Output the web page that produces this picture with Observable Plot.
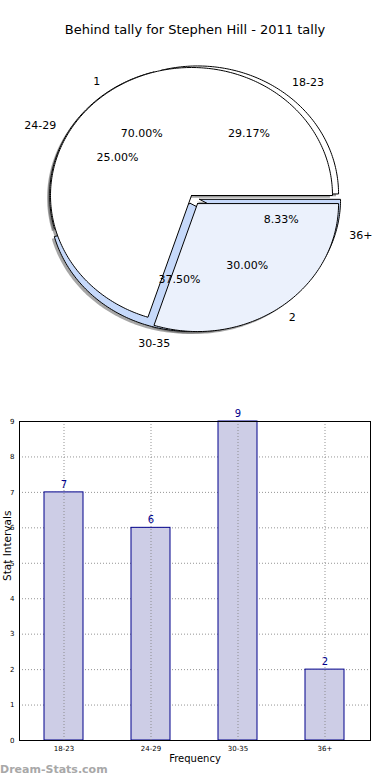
<!DOCTYPE html>
<html>
<head>
<meta charset="utf-8">
<script src="https://cdn.jsdelivr.net/npm/d3@7"></script>
<script src="https://cdn.jsdelivr.net/npm/@observablehq/plot@0.6"></script>
<style>
  html, body { margin: 0; padding: 0; background: #fff; }
  #wrap { position: relative; width: 390px; height: 780px; overflow: hidden; background: #fff; font-family: "DejaVu Sans", sans-serif; }
  #pie, #bar { position: absolute; left: 0; }
  #pie { top: 0; }
  #bar { top: 400px; }
  #title { position: absolute; top: 22px; left: 0; width: 390px; text-align: center; font-size: 13px; color: #000; }
  #wm { position: absolute; left: 0; top: 763px; font-size: 11px; font-weight: bold; color: #a8a8a8; }
</style>
</head>
<body>
<div id="wrap">
  <div id="pie"></div>
  <div id="bar"></div>
  <div id="title">Behind tally for Stephen Hill - 2011 tally</div>
  <div id="wm">Dream-Stats.com</div>
</div>
<script>
// ---- data ----
const ageLabels = ["18-23", "24-29", "30-35", "36+"];
const ageCounts = [7, 6, 9, 2];
const groupLabels = ["1", "2"];
const groupValues = [70, 30];
const yTicks = [0, 1, 2, 3, 4, 5, 6, 7, 8, 9];
const titleText = "Behind tally for Stephen Hill - 2011 tally";
const xTitle = "Frequency";
const yTitle = "Stat Intervals";

// ---- styles ----
const ageColors = ["#ffffff", "#ffffff", "#c6d9fa", "#c6d9fa"];
const ageOffsets = [[0.043, 0.012], [-0.006, 0], [-0.007, -0.062], [0.057, -0.03]];
const groupColors = ["#ffffff", "#ebf1fc"];
const groupOffsets = [[0, 0], [0.043, -0.063]];

function buildPie(labels, values, colors, offsets, name) {
  const total = d3.sum(values);
  let acc = 0;
  return values.map((v, i) => {
    const a0 = acc / total * 2 * Math.PI;
    acc += v;
    const a1 = acc / total * 2 * Math.PI;
    const [dx, dy] = offsets[i];
    const n = Math.max(2, Math.ceil((a1 - a0) / (Math.PI / 180)));
    const pts = [{x: dx, y: dy}];
    for (let k = 0; k <= n; k++) {
      const t = a0 + (a1 - a0) * k / n;
      pts.push({x: dx + Math.cos(t), y: dy + Math.sin(t)});
    }
    pts.push({x: dx, y: dy});
    const mid = (a0 + a1) / 2;
    return {
      id: name + i, pts, color: colors[i],
      label: {x: dx + 1.1 * Math.cos(mid), y: dy + 1.1 * Math.sin(mid), text: labels[i], anchor: Math.cos(mid) >= 0 ? "start" : "end"},
      pct: {x: dx + 0.6 * Math.cos(mid), y: dy + 0.6 * Math.sin(mid), text: (v / total * 100).toFixed(2) + "%"}
    };
  });
}

const agePie = buildPie(ageLabels, ageCounts, ageColors, ageOffsets, "a");
const groupPie = buildPie(groupLabels, groupValues, groupColors, groupOffsets, "g");
const allWedges = [...agePie, ...groupPie];

const pieMarks = [];
// shadows
for (const w of allWedges) {
  pieMarks.push(Plot.line(w.pts, {x: d => d.x - 0.018, y: d => d.y - 0.018, fill: "#4d4d4d", fillOpacity: 0.5, stroke: "none", curve: "linear"}));
}
for (const w of allWedges) {
  pieMarks.push(Plot.line(w.pts, {x: "x", y: "y", fill: w.color, stroke: "#000", strokeWidth: 1, curve: "linear", strokeLinejoin: "miter"}));
}
const labelData = allWedges.map(w => w.label);
const pctData = allWedges.map(w => w.pct);
pieMarks.push(Plot.text(labelData.filter(d => d.anchor === "start"), {x: "x", y: "y", text: "text", textAnchor: "start", fontSize: 11, fill: "#000"}));
pieMarks.push(Plot.text(labelData.filter(d => d.anchor === "end"), {x: "x", y: "y", text: "text", textAnchor: "end", fontSize: 11, fill: "#000"}));
pieMarks.push(Plot.text(pctData, {x: "x", y: "y", text: "text", fontSize: 11, fill: "#000"}));

const pie = Plot.plot({
  width: 390, height: 380,
  margin: 0,
  x: {domain: [-1, 1], range: [50, 332], axis: null},
  y: {domain: [-1, 1], range: [323, 67], axis: null},
  style: {fontFamily: "DejaVu Sans", background: "transparent"},
  marks: pieMarks
});
document.getElementById("pie").appendChild(pie);

// ---- bar chart ----
const barData = ageLabels.map((a, i) => ({age: a, count: ageCounts[i]}));
const bar = Plot.plot({
  width: 390, height: 380,
  marginTop: 21, marginBottom: 40, marginLeft: 19, marginRight: 20,
  style: {fontFamily: "DejaVu Sans", background: "transparent"},
  x: {domain: ageLabels, paddingInner: 0.55, paddingOuter: 0.275},
  y: {domain: [0, 9]},
  marks: [
    Plot.gridY(yTicks, {stroke: "#888", strokeOpacity: 0.9, strokeDasharray: "1,2"}),
    Plot.barY(barData, {x: "age", y: "count", fill: "#cdcde6", stroke: "#00008b", strokeWidth: 1}),
    Plot.gridX({stroke: "#888", strokeOpacity: 0.9, strokeDasharray: "1,2"}),
    Plot.frame({stroke: "#000"}),
    Plot.axisY(yTicks, {tickSize: 0, tickPadding: 5, fontSize: 7, label: null}),
    Plot.axisX({tickSize: 0, tickPadding: 6, fontSize: 7, label: null}),
    Plot.text(barData, {x: "age", y: "count", text: d => String(d.count), dy: -8, fill: "#00008b", fontSize: 10}),
    Plot.text([xTitle], {frameAnchor: "bottom", dy: 21, fontSize: 10, fill: "#000"}),
    Plot.text([yTitle], {frameAnchor: "left", dx: -12, rotate: -90, fontSize: 10.5, fill: "#000"})
  ]
});
document.getElementById("bar").appendChild(bar);
</script>
</body>
</html>
